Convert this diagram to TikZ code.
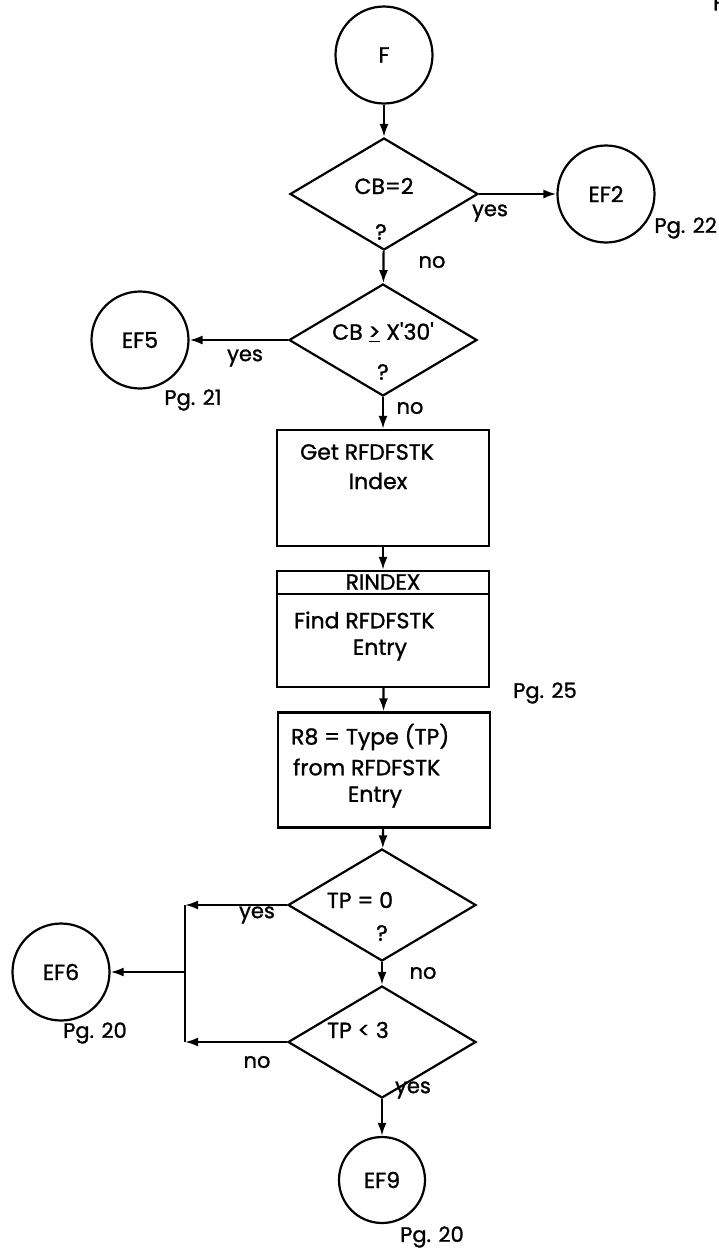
\documentclass[tikz,border=0pt]{standalone}
\usepackage{fontspec}
\setmainfont{Poppins}[FakeBold=1.2]
\usetikzlibrary{shapes.geometric,arrows.meta}

\begin{document}
\begin{tikzpicture}[x=1pt,y=-1pt,line width=2.2pt,
    conn/.style={-{Latex[length=13pt,width=9pt]}},
    term/.style={circle,draw,minimum size=97pt,inner sep=0pt,font=\fontsize{22}{26}\selectfont},
    decide/.style={diamond,draw,minimum width=188pt,minimum height=112pt,inner sep=0pt},
    procbox/.style={rectangle,draw,minimum width=212pt,minimum height=116pt,inner sep=0pt},
    txt/.style={font=\fontsize{22}{26}\selectfont,inner sep=0pt},
    note/.style={font=\fontsize{21}{24}\selectfont,inner sep=0pt}]
    \useasboundingbox (0,0) rectangle (719,1253);

    % start of chart
    \node[txt,anchor=north west] at (712,-6) {F};
    \node[term] (f) at (384,55) {F};

    % CB=2 test
    \node[decide] (d1) at (384,194) {};
    \node[txt] at (384,186) {CB=2};
    \node[txt] at (381,232) {?};
    \node[term] (ef2) at (606,194) {EF2};
    \node[note,anchor=east] at (718,228) {Pg. 22};
    \node[note] at (490,213) {yes};
    \node[note] at (432,262) {no};

    % CB >= X'30' test
    \node[decide] (d2) at (383,340) {};
    \node[txt] at (383,332) {CB \underline{>} X\textquotesingle30\textquotesingle};
    \node[txt] at (383,372) {?};
    \node[term] (ef5) at (140,340) {EF5};
    \node[note] at (245,358) {yes};
    \node[note] at (193,400) {Pg. 21};
    \node[note] at (410,408) {no};

    % boxes
    \node[procbox] (b1) at (383,488) {};
    \node[txt] at (367,452) {Get RFDFSTK};
    \node[txt] at (378,481) {Index};

    \node[procbox] (b2) at (383,629) {};
    \draw (b2.west |- 0,594) -- (b2.east |- 0,594);
    \node[txt] at (383,582) {RINDEX};
    \node[txt,anchor=west] at (293,620) {Find RFDFSTK};
    \node[txt] at (380,650) {Entry};
    \node[note] at (545,693) {Pg. 25};

    \node[procbox,minimum height=115pt] (b3) at (384,770) {};
    \node[txt,anchor=west] at (290,737) {R8 = Type (TP)};
    \node[txt,anchor=west] at (292,767) {from RFDFSTK};
    \node[txt] at (375,797) {Entry};

    % TP tests
    \node[decide] (d3) at (382,905) {};
    \node[txt] at (360,900) {TP = 0};
    \node[txt] at (382,933) {?};
    \node[note] at (257,915) {yes};
    \node[note] at (423,973) {no};

    \node[decide] (d4) at (382,1042) {};
    \node[txt] at (358,1030) {TP < 3};
    \node[note] at (257,1062) {no};
    \node[note] at (413,1090) {yes};

    \node[term,minimum size=86pt] (ef9) at (382,1180) {EF9};
    \node[note] at (432,1237) {Pg. 20};
    \node[term] (ef6) at (61,972) {EF6};
    \node[note] at (95,1033) {Pg. 20};

    \coordinate (jtop) at (185,905);
    \coordinate (jmid) at (185,972);
    \coordinate (jbot) at (185,1042);

    % connectors
    \draw[conn] (f) -- (d1);
    \draw[conn] (d1.east) -- (ef2.west);
    \draw[conn] (d1) -- (d2);
    \draw[conn] (d2.west) -- (ef5.east);
    \draw[conn] (d2) -- (b1);
    \draw[conn] (b1) -- (b2);
    \draw[conn] (b2) -- (b3);
    \draw[conn] (b3) -- (d3);
    \draw[conn] (d3) -- (d4);
    \draw[conn] (d4) -- (ef9);
    \draw[conn] (d3.west) -- (jtop);
    \draw[conn] (d4.west) -- (jbot);
    \draw (jtop) -- (jbot);
    \draw[conn] (jmid) -- (ef6.east);
\end{tikzpicture}
\end{document}
